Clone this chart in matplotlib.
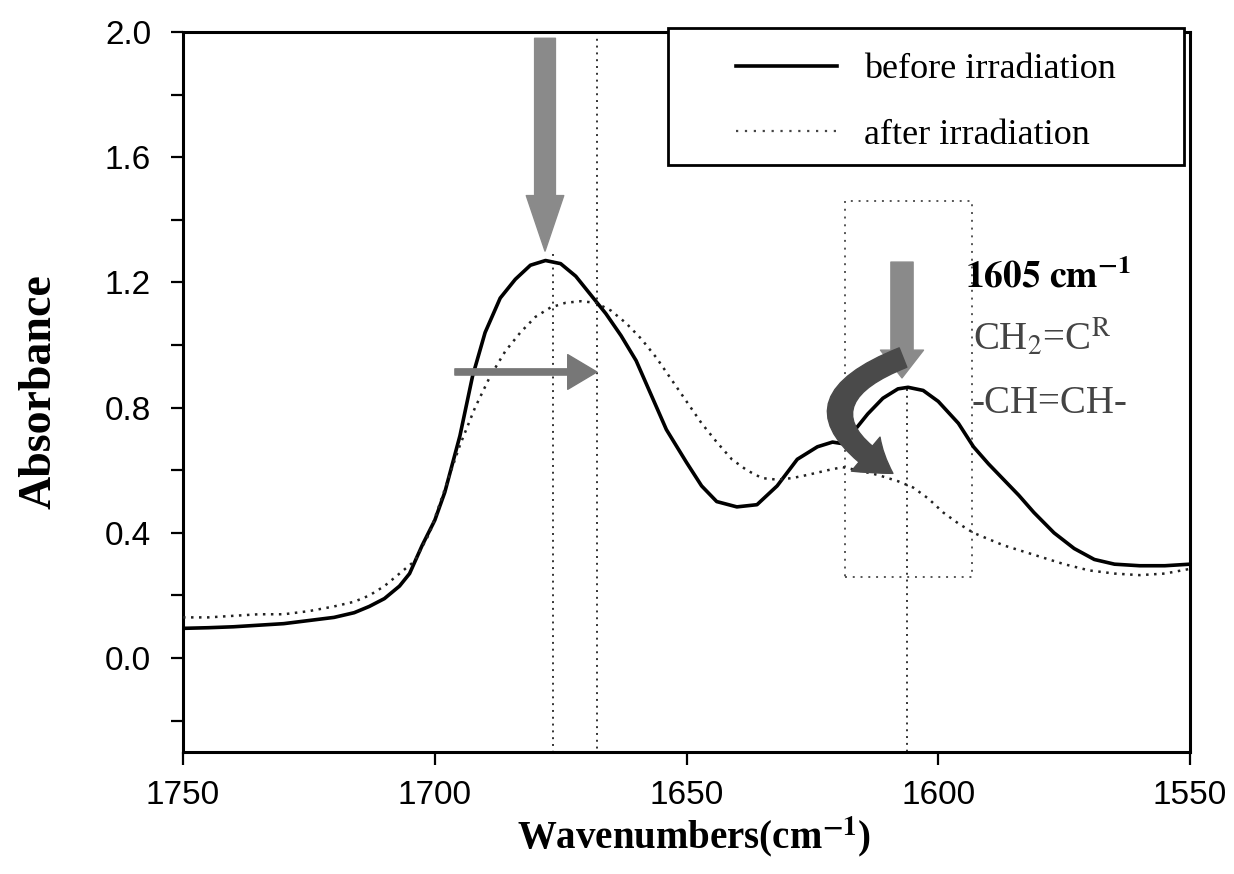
import matplotlib
matplotlib.use("Agg")
import matplotlib.pyplot as plt
from matplotlib.patches import FancyArrowPatch, Rectangle
from matplotlib.lines import Line2D
from matplotlib.ticker import MultipleLocator

plt.rcParams["font.family"] = ["Liberation Serif", "DejaVu Serif"]
plt.rcParams["mathtext.fontset"] = "stix"

# before irradiation (solid)
wn_before = [1750, 1745, 1740, 1735, 1730, 1725, 1720, 1716, 1713, 1710, 1707, 1705,
             1702.5, 1700, 1698, 1695, 1692.5, 1690, 1687, 1684, 1681, 1678, 1675,
             1672, 1669, 1666, 1663, 1660, 1657, 1654, 1650, 1647, 1644, 1640, 1636,
             1632, 1628, 1624, 1621, 1619, 1617, 1614, 1611, 1608, 1606, 1603, 1600,
             1596, 1593, 1590, 1587, 1584, 1581, 1577, 1573, 1569, 1565, 1560, 1555, 1550]
abs_before = [0.095, 0.097, 0.10, 0.105, 0.11, 0.12, 0.13, 0.145, 0.165, 0.19, 0.23, 0.27,
              0.36, 0.44, 0.53, 0.71, 0.90, 1.04, 1.15, 1.21, 1.255, 1.27, 1.26,
              1.22, 1.16, 1.10, 1.03, 0.95, 0.84, 0.73, 0.625, 0.55, 0.50, 0.483, 0.49,
              0.55, 0.635, 0.675, 0.69, 0.685, 0.72, 0.78, 0.83, 0.86, 0.865, 0.855, 0.82,
              0.75, 0.675, 0.62, 0.57, 0.52, 0.465, 0.40, 0.35, 0.315, 0.30, 0.295, 0.295, 0.30]

# after irradiation (dotted)
wn_after = [1750, 1745, 1740, 1735, 1730, 1725, 1720, 1716, 1713, 1710, 1707, 1704,
            1701, 1698, 1695, 1692, 1689, 1686, 1683, 1680, 1677, 1674, 1671, 1668,
            1665, 1662, 1659, 1656, 1653, 1650, 1647, 1644, 1641, 1638, 1635, 1632,
            1629, 1626, 1622, 1619, 1616, 1612, 1608, 1605, 1602, 1599, 1596, 1593,
            1590, 1587, 1583, 1579, 1575, 1570, 1565, 1560, 1555, 1550]
abs_after = [0.13, 0.13, 0.135, 0.14, 0.14, 0.15, 0.165, 0.18, 0.20, 0.23, 0.27, 0.31,
             0.40, 0.54, 0.68, 0.80, 0.90, 0.98, 1.04, 1.09, 1.12, 1.135, 1.14, 1.135,
             1.11, 1.07, 1.02, 0.96, 0.89, 0.82, 0.75, 0.69, 0.635, 0.60, 0.575, 0.57,
             0.575, 0.585, 0.60, 0.61, 0.60, 0.585, 0.565, 0.545, 0.51, 0.465, 0.43, 0.40,
             0.38, 0.36, 0.34, 0.32, 0.30, 0.28, 0.27, 0.265, 0.27, 0.285]

series_labels = ["before irradiation", "after irradiation"]
x_ticks = [1750, 1700, 1650, 1600, 1550]
y_ticks = [0.0, 0.4, 0.8, 1.2, 1.6, 2.0]

# marker positions (cm-1)
peak_before = 1676.5
peak_after = 1667.8
peak_1605 = 1606.2

fig = plt.figure(figsize=(12.34, 8.74), dpi=100)
ax = fig.add_axes([183 / 1234, 1 - 752 / 874, 1007 / 1234, 720 / 874])

ax.plot(wn_before, abs_before, color="black", lw=2.6, zorder=4)
ax.plot(wn_after, abs_after, color="#222222", lw=1.8, ls=(0, (1, 2.2)), zorder=4)

ax.set_xlim(1750, 1550)
ax.set_ylim(-0.3, 2.0)
ax.set_xticks(x_ticks)
ax.set_yticks(y_ticks)
ax.yaxis.set_minor_locator(MultipleLocator(0.2))
ax.set_yticklabels([f"{v:.1f}" for v in y_ticks])

for lab in ax.get_xticklabels() + ax.get_yticklabels():
    lab.set_family(["Liberation Sans", "DejaVu Sans"])
    lab.set_fontsize(24)
ax.tick_params(axis="both", which="both", direction="out", length=9, width=1.6)
ax.tick_params(axis="x", pad=11)
ax.tick_params(axis="y", pad=14)
for sp in ax.spines.values():
    sp.set_linewidth(2.2)

ax.set_ylabel("Absorbance", fontsize=33, fontweight="bold")
ax.yaxis.set_label_coords(-0.122, 0.5)
ax.set_xlabel(r"Wavenumbers(cm$^{\mathbf{-1}}$)", fontsize=28, fontweight="bold")
ax.xaxis.set_label_coords(0.507, -0.087)

# dotted guide lines
dot = dict(color="#333333", lw=1.4, ls=(0, (1, 2.5)), zorder=2)
ax.plot([peak_before, peak_before], [1.29, -0.3], **dot)
ax.plot([peak_after, peak_after], [2.0, -0.3], **dot)
ax.plot([peak_1605, peak_1605], [0.86, -0.3], **dot)
ax.add_patch(Rectangle((1618.5, 0.26), -25.2, 1.2, fill=False, ec="#555555",
                       lw=1.4, ls=(0, (1, 3)), zorder=2))

# arrows
ax.add_patch(FancyArrowPatch((1678.1, 1.98), (1678.1, 1.30),
                             arrowstyle="simple,head_width=27,head_length=40,tail_width=15",
                             color="#8a8a8a", mutation_scale=1, shrinkA=0, shrinkB=0, zorder=5))
ax.add_patch(FancyArrowPatch((1696.0, 0.914), (1667.8, 0.914),
                             arrowstyle="simple,head_width=25,head_length=21,tail_width=4.5",
                             color="#777777", mutation_scale=1, shrinkA=0, shrinkB=0, zorder=5))
ax.add_patch(FancyArrowPatch((1607.2, 1.265), (1607.2, 0.895),
                             arrowstyle="simple,head_width=31,head_length=20,tail_width=16",
                             color="#8a8a8a", mutation_scale=1, shrinkA=0, shrinkB=0, zorder=5))
ax.add_patch(FancyArrowPatch((1607.0, 0.96), (1609.0, 0.59),
                             connectionstyle="arc3,rad=1.0",
                             arrowstyle="simple,head_width=32,head_length=24,tail_width=15",
                             color="#4a4a4a", mutation_scale=1, shrinkA=0, shrinkB=0, zorder=5))

# annotations
ax.text(1594.7, 1.185, r"$\mathbf{1605\ cm^{-1}}$", fontsize=27, va="baseline", ha="left")
ax.text(1593.1, 0.984, r"CH$_2$=C$^{\rm R}$", fontsize=28, color="#444444",
        va="baseline", ha="left")
ax.text(1593.3, 0.783, "-CH=CH-", fontsize=28, color="#444444", va="baseline", ha="left")

# legend
handles = [Line2D([], [], color="black", lw=2.6),
           Line2D([], [], color="#444444", lw=1.6, ls=(0, (1, 3)))]
ax.legend(handles, series_labels, loc="center", bbox_to_anchor=(0.738, 0.902),
          frameon=False, fontsize=26, handlelength=2.8, handletextpad=0.75,
          labelspacing=0.9)
ax.add_patch(Rectangle((0.482, 0.815), 0.512, 0.19, transform=ax.transAxes,
                       fill=True, fc="white", ec="black", lw=2.0, clip_on=False, zorder=3))

fig.savefig("out.png", dpi=100)
